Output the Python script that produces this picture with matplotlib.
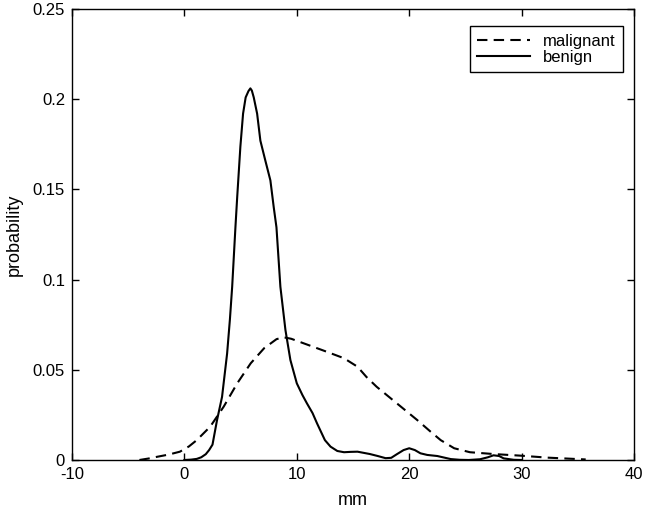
import numpy as np
import matplotlib.pyplot as plt

plt.rcParams['font.family'] = ['Liberation Sans', 'DejaVu Sans']

# benign density
benign_x = [0.0, 0.6, 1.1, 1.5, 1.9, 2.2, 2.5, 2.9, 3.35, 3.8, 4.05, 4.25,
            4.54, 4.7, 4.98, 5.22, 5.45, 5.7, 5.87, 6.0, 6.17, 6.47, 6.76,
            7.2, 7.65, 7.95, 8.19, 8.54, 8.99, 9.43, 10.0, 10.5, 10.9, 11.4,
            11.8, 12.5, 13.0, 13.6, 14.2, 14.8, 15.4, 16.5, 17.2, 17.9, 18.4,
            18.9, 19.5, 20.0, 20.5, 21.0, 21.6, 22.5, 23.2, 23.7, 24.5, 25.3,
            26.3, 27.0, 27.5, 28.0, 28.4, 29.3, 30.0]
benign_y = [0.0, 0.0002, 0.0006, 0.0015, 0.0032, 0.0055, 0.0085, 0.022,
            0.035, 0.059, 0.078, 0.096, 0.129, 0.146, 0.1737, 0.192, 0.201,
            0.2045, 0.206, 0.2048, 0.201, 0.192, 0.177, 0.166, 0.155, 0.140,
            0.129, 0.096, 0.072, 0.0554, 0.0425, 0.036, 0.0314, 0.026, 0.0203,
            0.011, 0.0074, 0.005, 0.0043, 0.0045, 0.0046, 0.0033, 0.0022,
            0.001, 0.0012, 0.0032, 0.0055, 0.0065, 0.0055, 0.0037, 0.0028,
            0.0022, 0.0012, 0.0005, 0.0001, 0.0, 0.0004, 0.0015, 0.0026,
            0.0022, 0.0009, 0.0001, 0.0]

# malignant density
malig_x = [-4.0, -3.2, -2.4, -1.4, -0.4, 0.4, 1.1, 2.3, 3.5, 4.7, 5.9, 7.1,
           8.2, 8.84, 9.5, 10.6, 12.4, 14.2, 15.4, 16.2, 17.1, 18.9, 20.7,
           21.9, 22.8, 24.0, 25.4, 27.5, 29.9, 32.3, 34.0, 35.7]
malig_y = [0.0, 0.0008, 0.0018, 0.003, 0.0046, 0.0075, 0.011, 0.0185, 0.0296,
           0.0425, 0.0536, 0.062, 0.067, 0.068, 0.0672, 0.0647, 0.0606, 0.0564,
           0.0517, 0.046, 0.0406, 0.0314, 0.0222, 0.0157, 0.011, 0.0065,
           0.0043, 0.0033, 0.0024, 0.0013, 0.0008, 0.0003]

fig = plt.figure(figsize=(6.45, 5.09), dpi=100)
ax = fig.add_axes([0.1116, 0.0963, 0.8714, 0.8860])

ax.plot(malig_x, malig_y, 'k--', lw=1.5, dashes=(5, 3), label='malignant')
ax.plot(benign_x, benign_y, 'k-', lw=1.5, label='benign')

ax.set_xlim(-10, 40)
ax.set_ylim(0, 0.25)
ax.set_xticks([-10, 0, 10, 20, 30, 40])
ax.set_xticklabels(['-10', '0', '10', '20', '30', '40'])
ax.set_yticks([0, 0.05, 0.1, 0.15, 0.2, 0.25])
ax.set_yticklabels(['0', '0.05', '0.1', '0.15', '0.2', '0.25'])
ax.tick_params(direction='in', top=True, right=True, length=5, width=1,
               labelsize=12, pad=5)
for s in ax.spines.values():
    s.set_linewidth(1)

ax.set_xlabel('mm', fontsize=13, labelpad=7)
ax.set_ylabel('probability', fontsize=13, labelpad=7)

leg = ax.legend(loc='upper right', bbox_to_anchor=(0.9804, 0.9623),
                fontsize=12, fancybox=False, edgecolor='k', framealpha=1,
                handlelength=3.2, borderaxespad=0, labelspacing=0.08,
                borderpad=0.45, handletextpad=0.75)
leg.get_frame().set_linewidth(1)

fig.savefig('out.png', dpi=100)
